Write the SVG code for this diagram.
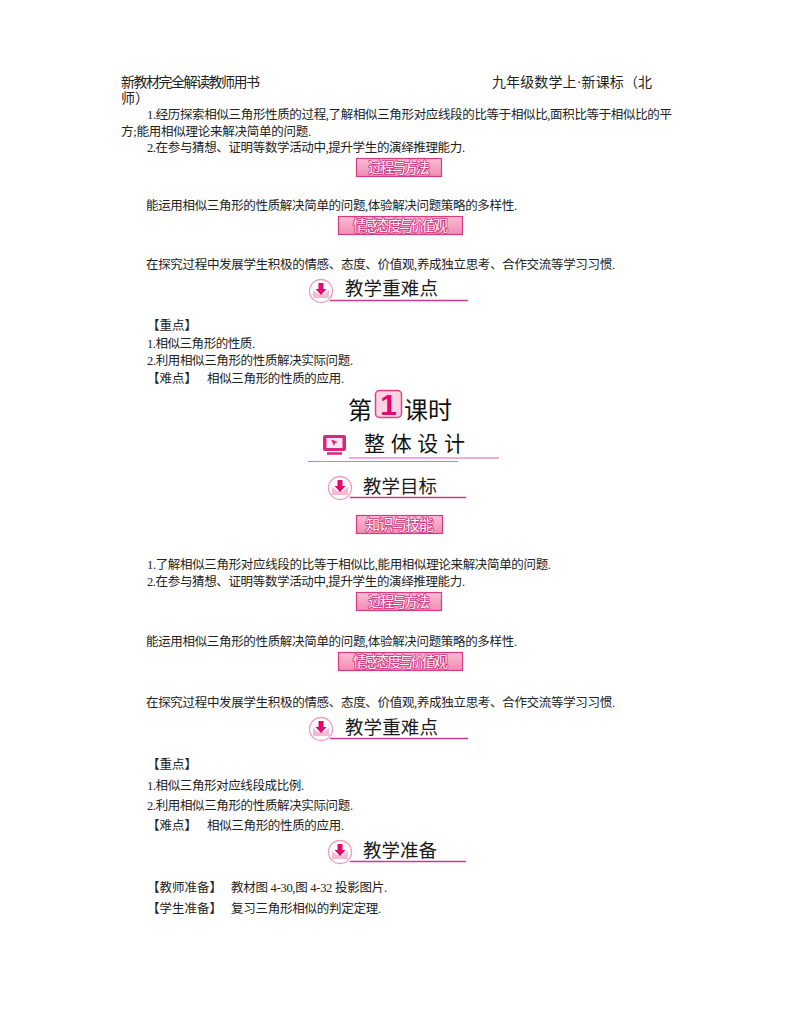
<svg xmlns="http://www.w3.org/2000/svg" width="800" height="1028" viewBox="0 0 800 1028">
<style>
text{font-family:"Liberation Serif","Noto Sans CJK SC",sans-serif;}
.b{font-size:12.5px;fill:#222;}
.h{font-size:14px;fill:#222;}
.t{font-size:14.6px;fill:#fff3f8;stroke:#d4347f;stroke-width:1.6px;paint-order:stroke;stroke-linejoin:round;text-anchor:middle;font-family:"Noto Sans CJK SC",sans-serif;}
.s{font-size:18.5px;fill:#1a1a1a;font-family:"Noto Sans CJK SC",sans-serif;}
.badge{fill:url(#bg);stroke:#d63a84;stroke-width:1.2;}
.rule{stroke:#c93a94;stroke-width:1.3;fill:none;}
</style>
<defs>
<linearGradient id="bg" x1="0" y1="0" x2="0" y2="1"><stop offset="0" stop-color="#f9bdd4"/><stop offset="1" stop-color="#f08db3"/></linearGradient>
<g id="ico">
<circle cx="0" cy="0" r="11.500" fill="#fff" stroke="#ea9cc0" stroke-width="1.300"/>
<path d="M-8 -1 L-3 3 H3 L8 -1 V7 H-8 Z" fill="#f7b9d2"/>
<path d="M-2.500 -8 H2.500 V-2 H5.500 L0 4 L-5.500 -2 H-2.500 Z" fill="#e2086f"/>
</g>
</defs>
<rect width="800" height="1028" fill="#fff"/>

<g id="page-header">
<text class="h" x="121" y="87" textLength="139">新教材完全解读教师用书</text>
<text class="h" x="492" y="87" textLength="160">九年级数学上·新课标（北</text>
<text class="h" x="121" y="103">师）</text>
</g>

<g id="intro-text">
<text class="b" x="147" y="119" textLength="525">1.经历探索相似三角形性质的过程,了解相似三角形对应线段的比等于相似比,面积比等于相似比的平</text>
<text class="b" x="121" y="136" textLength="190">方;能用相似理论来解决简单的问题.</text>
<text class="b" x="147" y="152" textLength="318">2.在参与猜想、证明等数学活动中,提升学生的演绎推理能力.</text>
</g>

<g id="badge-1"><rect class="badge" x="356.500" y="158.500" width="85" height="18"/><text class="t" x="399" y="173" textLength="62">过程与方法</text></g>
<g id="text-2"><text class="b" x="146" y="210" textLength="371">能运用相似三角形的性质解决简单的问题,体验解决问题策略的多样性.</text></g>
<g id="badge-2"><rect class="badge" x="338.500" y="216.500" width="124" height="18"/><text class="t" x="400.500" y="231" textLength="95">情感态度与价值观</text></g>
<g id="text-3"><text class="b" x="146" y="269" textLength="469">在探究过程中发展学生积极的情感、态度、价值观,养成独立思考、合作交流等学习习惯.</text></g>

<g id="head-1"><use href="#ico" x="321" y="291"/><path class="rule" d="M330 300.500H468"/><text class="s" x="345" y="295" textLength="93">教学重难点</text></g>

<g id="focus-1">
<text class="b" x="147" y="330">【重点】</text>
<text class="b" x="147" y="348" textLength="108">1.相似三角形的性质.</text>
<text class="b" x="147" y="365" textLength="206">2.利用相似三角形的性质解决实际问题.</text>
<text class="b" x="147" y="383">【难点】</text>
<text class="b" x="207" y="383" textLength="137">相似三角形的性质的应用.</text>
</g>

<g id="lesson-title">
<text x="348" y="419" font-size="24" fill="#111" style="font-family:'Noto Sans CJK SC',sans-serif">第</text>
<rect x="375.500" y="390.500" width="26" height="27" rx="4" fill="#fbd3e3" stroke="#e0408a" stroke-width="1.500"/>
<text x="388.500" y="415" font-size="30" font-weight="700" fill="#e2086f" text-anchor="middle" style="font-family:'Liberation Sans',sans-serif">1</text>
<text x="404" y="419" font-size="24" fill="#111" style="font-family:'Noto Sans CJK SC',sans-serif">课时</text>
</g>

<g id="overall-design">
<rect x="323" y="435" width="23" height="16" rx="2" fill="#d8277f"/>
<rect x="326.500" y="438" width="16" height="10" fill="#fde6ef"/>
<path d="M331 439.500L338 442L335 443L334 446Z" fill="#d8277f"/>
<path d="M327 453.500H342" stroke="#d8277f" stroke-width="2.500"/>
<text x="364" y="451" font-size="21" fill="#111" textLength="101" style="font-family:'Noto Sans CJK SC',sans-serif">整体设计</text>
<path d="M349 458H499" stroke="#d860a8" stroke-width="1" fill="none"/>
<path d="M308 461.500H458" stroke="#d878b4" stroke-width="1" fill="none"/>
</g>

<g id="head-2"><use href="#ico" x="340" y="488"/><path class="rule" d="M350 497.500H466"/><text class="s" x="363" y="492.500" textLength="74">教学目标</text></g>

<g id="badge-3"><rect class="badge" x="356.500" y="515.500" width="86" height="18"/><text class="t" x="399.500" y="530" textLength="68">知识与技能</text></g>

<g id="text-4">
<text class="b" x="147" y="569" textLength="404">1.了解相似三角形对应线段的比等于相似比,能用相似理论来解决简单的问题.</text>
<text class="b" x="147" y="586" textLength="318">2.在参与猜想、证明等数学活动中,提升学生的演绎推理能力.</text>
</g>

<g id="badge-4"><rect class="badge" x="356.500" y="592.500" width="85" height="18"/><text class="t" x="399" y="607" textLength="62">过程与方法</text></g>
<g id="text-5"><text class="b" x="146" y="646" textLength="371">能运用相似三角形的性质解决简单的问题,体验解决问题策略的多样性.</text></g>
<g id="badge-5"><rect class="badge" x="338.500" y="652.500" width="124" height="18"/><text class="t" x="400.500" y="667" textLength="95">情感态度与价值观</text></g>
<g id="text-6"><text class="b" x="146" y="707" textLength="469">在探究过程中发展学生积极的情感、态度、价值观,养成独立思考、合作交流等学习习惯.</text></g>

<g id="head-3"><use href="#ico" x="321" y="729"/><path class="rule" d="M330 738.500H468"/><text class="s" x="345" y="733.500" textLength="93">教学重难点</text></g>

<g id="focus-2">
<text class="b" x="147" y="769">【重点】</text>
<text class="b" x="147" y="790" textLength="157">1.相似三角形对应线段成比例.</text>
<text class="b" x="147" y="810" textLength="206">2.利用相似三角形的性质解决实际问题.</text>
<text class="b" x="147" y="830">【难点】</text>
<text class="b" x="207" y="830" textLength="137">相似三角形的性质的应用.</text>
</g>

<g id="head-4"><use href="#ico" x="340" y="852"/><path class="rule" d="M350 861.500H466"/><text class="s" x="363" y="856.500" textLength="74">教学准备</text></g>

<g id="prep">
<text class="b" x="147" y="892">【教师准备】</text>
<text class="b" x="231" y="892" textLength="156">教材图 4-30,图 4-32 投影图片.</text>
<text class="b" x="147" y="913">【学生准备】</text>
<text class="b" x="231" y="913" textLength="150">复习三角形相似的判定定理.</text>
</g>
</svg>
